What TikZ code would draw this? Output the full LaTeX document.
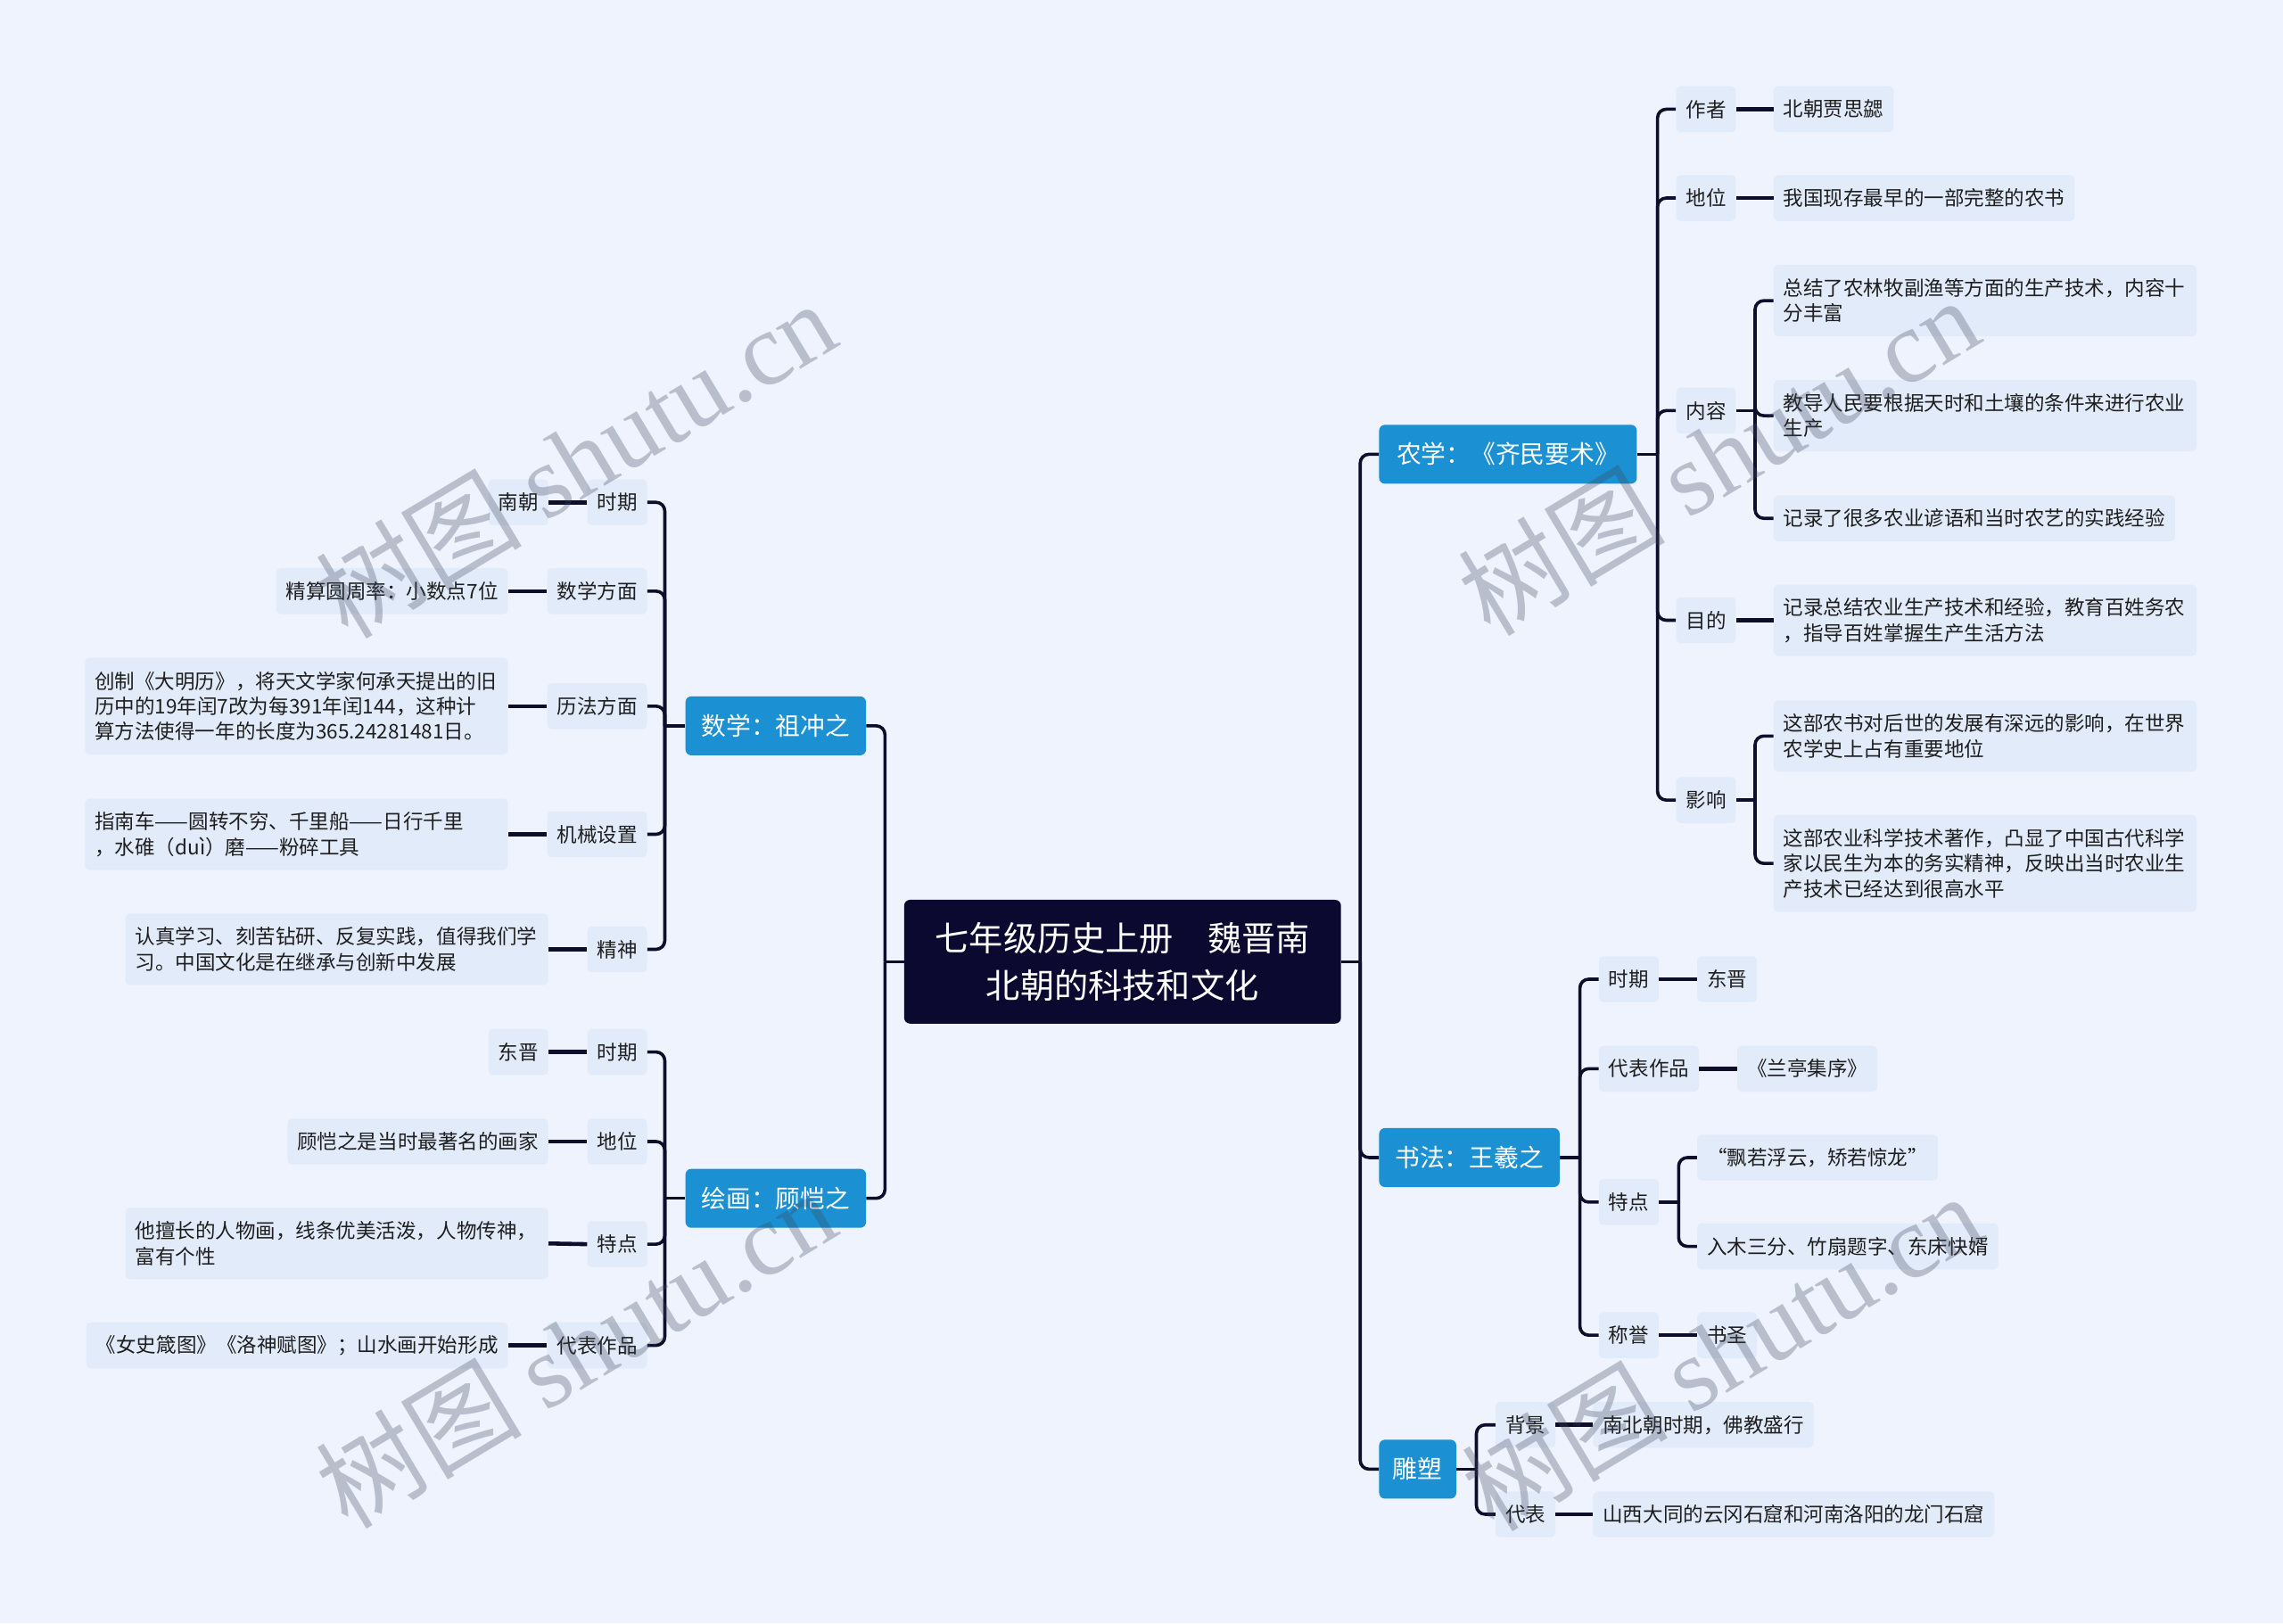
\documentclass[tikz,border=0pt]{standalone}
\usepackage{fontspec}
\setmainfont{Noto Sans CJK SC}
\newfontfamily\wmserif{Liberation Serif}
\newcommand\fsS{\fontsize{13.8pt}{17.4pt}\selectfont}
\newcommand\fsM{\fontsize{17pt}{21pt}\selectfont}
\newcommand\fsL{\fontsize{23.4pt}{32pt}\selectfont}
\newcommand\fsW{\fontsize{71pt}{80pt}\selectfont}
\definecolor{bgc}{HTML}{EEF3FD}
\definecolor{boxc}{HTML}{E2EBFA}
\definecolor{bluec}{HTML}{1B90D2}
\definecolor{rootc}{HTML}{0B0930}
\definecolor{linec}{HTML}{0E0D2B}
\definecolor{txtc}{HTML}{1E1E1E}
\definecolor{wmc}{RGB}{60,70,90}
\tikzset{
  lf/.style={fill=boxc, rounded corners=3, inner xsep=6.7, inner ysep=0, minimum height=31.5, font=\fsS, text=txtc, align=left},
  lftwo/.style={lf, minimum height=49, text width=277},
  lfthree/.style={lf, minimum height=66.5, text width=277},
  lone/.style={fill=bluec, rounded corners=4, text=white, font=\fsM, minimum height=40.5, inner xsep=0, inner ysep=0},
  rootbox/.style={fill=rootc, rounded corners=4, text=white, font=\fsL, minimum width=300, minimum height=85, align=center, inner sep=0},
  conn/.style={draw=linec, line width=2.2},
  elbow/.style={conn, rounded corners=6},
  leafconn/.style={draw=linec, line width=2.8},
  wm/.style={font=\fsW, text=wmc, text opacity=0.3, rotate=31, inner sep=0},
}
\begin{document}
\begin{tikzpicture}[x=1pt,y=-1pt]
\fill[bgc] (0,0) rectangle (1568,1115);
\useasboundingbox (0,0) rectangle (1568,1115);

% root
\node[rootbox] (root) at (771,660.5) {七年级历史上册　魏晋南\\北朝的科技和文化};

% level 1
\node[lone, anchor=west, minimum width=177] (nx) at (947,312) {农学：《齐民要术》};
\node[lone, anchor=west, minimum width=124] (sf) at (947,795) {书法：王羲之};
\node[lone, anchor=west, minimum width=53] (ds) at (947,1009) {雕塑};
\node[lone, anchor=east, minimum width=124] (sx) at (595,498.5) {数学：祖冲之};
\node[lone, anchor=east, minimum width=124] (hh) at (595,823) {绘画：顾恺之};

% 农学 children
\node[lf, anchor=west] (zz) at (1151,75) {作者};
\node[lf, anchor=west] (lzz) at (1218,75) {北朝贾思勰};
\node[lf, anchor=west] (dw) at (1151,136) {地位};
\node[lf, anchor=west] (ldw) at (1218,136) {我国现存最早的一部完整的农书};
\node[lf, anchor=west] (nr) at (1151,282) {内容};
\node[lftwo, anchor=west] (nra) at (1218,206.5) {总结了农林牧副渔等方面的生产技术，内容十\\分丰富};
\node[lftwo, anchor=west] (nrb) at (1218,285.5) {教导人民要根据天时和土壤的条件来进行农业\\生产};
\node[lf, anchor=west] (nrc) at (1218,356) {记录了很多农业谚语和当时农艺的实践经验};
\node[lf, anchor=west] (md) at (1151,426) {目的};
\node[lftwo, anchor=west] (lmd) at (1218,426) {记录总结农业生产技术和经验，教育百姓务农\\，指导百姓掌握生产生活方法};
\node[lf, anchor=west] (yx) at (1151,549.5) {影响};
\node[lftwo, anchor=west] (yxa) at (1218,505.5) {这部农书对后世的发展有深远的影响，在世界\\农学史上占有重要地位};
\node[lfthree, anchor=west] (yxb) at (1218,593) {这部农业科学技术著作，凸显了中国古代科学\\家以民生为本的务实精神，反映出当时农业生\\产技术已经达到很高水平};

% 书法 children
\node[lf, anchor=west] (sfa) at (1098,672.5) {时期};
\node[lf, anchor=west] (lsfa) at (1165.5,672.5) {东晋};
\node[lf, anchor=west] (sfb) at (1098,734) {代表作品};
\node[lf, anchor=west] (lsfb) at (1193,734) {《兰亭集序》};
\node[lf, anchor=west] (sfc) at (1098,825.6) {特点};
\node[lf, anchor=west, minimum width=164.5] (sfca) at (1165.5,795) {“飘若浮云，矫若惊龙”};
\node[lf, anchor=west] (sfcb) at (1165.5,856) {入木三分、竹扇题字、东床快婿};
\node[lf, anchor=west] (sfd) at (1098,917) {称誉};
\node[lf, anchor=west] (lsfd) at (1165.5,917) {书圣};

% 雕塑 children
\node[lf, anchor=west] (dsa) at (1027,978.6) {背景};
\node[lf, anchor=west] (ldsa) at (1094,978.6) {南北朝时期，佛教盛行};
\node[lf, anchor=west] (dsb) at (1027,1040) {代表};
\node[lf, anchor=west] (ldsb) at (1094,1040) {山西大同的云冈石窟和河南洛阳的龙门石窟};

% 数学 children
\node[lf, anchor=east] (sxa) at (444.6,345) {时期};
\node[lf, anchor=east] (lsxa) at (376.7,345) {南朝};
\node[lf, anchor=east] (sxb) at (444.6,406) {数学方面};
\node[lf, anchor=east] (lsxb) at (349,406) {精算圆周率：小数点7位};
\node[lf, anchor=east] (sxc) at (444.6,485) {历法方面};
\node[lfthree, anchor=east] (lsxc) at (349,485) {创制《大明历》，将天文学家何承天提出的旧\\历中的19年闰7改为每391年闰144，这种计\\算方法使得一年的长度为365.24281481日。};
\node[lf, anchor=east] (sxd) at (444.6,573) {机械设置};
\node[lftwo, anchor=east] (lsxd) at (349,573) {指南车——圆转不穷、千里船——日行千里\\，水碓（duì）磨——粉碎工具};
\node[lf, anchor=east] (sxe) at (444.6,652) {精神};
\node[lftwo, anchor=east] (lsxe) at (376.7,652) {认真学习、刻苦钻研、反复实践，值得我们学\\习。中国文化是在继承与创新中发展};

% 绘画 children
\node[lf, anchor=east] (hha) at (444.6,722.5) {时期};
\node[lf, anchor=east] (lhha) at (376.7,722.5) {东晋};
\node[lf, anchor=east] (hhb) at (444.6,784) {地位};
\node[lf, anchor=east] (lhhb) at (376.7,784) {顾恺之是当时最著名的画家};
\node[lf, anchor=east] (hhc) at (444.6,854.5) {特点};
\node[lftwo, anchor=east] (lhhc) at (376.7,854) {他擅长的人物画，线条优美活泼，人物传神，\\富有个性};
\node[lf, anchor=east] (hhd) at (444.6,924) {代表作品};
\node[lf, anchor=east] (lhhd) at (349,924) {《女史箴图》《洛神赋图》；山水画开始形成};

% ---- connectors ----
% root
\draw[conn] (root.east) -- ++(13,0) coordinate (jr);
\draw[conn] (root.west) -- ++(-13,0) coordinate (jl);
\foreach \c in {nx,sf,ds} \draw[elbow] (jr) |- (\c.west);
\foreach \c in {sx,hh} \draw[elbow] (jl) |- (\c.east);

% 农学
\draw[conn] (nx.east) -- ++(14,0) coordinate (jnx);
\foreach \c in {zz,dw,nr,md,yx} \draw[elbow] (jnx) |- (\c.west);
\draw[leafconn] (zz.east) -- (lzz.west);
\draw[leafconn] (dw.east) -- (ldw.west);
\draw[leafconn] (md.east) -- (lmd.west);
\draw[conn] (nr.east) -- ++(13,0) coordinate (jnr);
\foreach \c in {nra,nrb,nrc} \draw[elbow] (jnr) |- (\c.west);
\draw[conn] (yx.east) -- ++(13,0) coordinate (jyx);
\foreach \c in {yxa,yxb} \draw[elbow] (jyx) |- (\c.west);

% 书法
\draw[conn] (sf.east) -- ++(13.7,0) coordinate (jsf);
\foreach \c in {sfa,sfb,sfc,sfd} \draw[elbow] (jsf) |- (\c.west);
\draw[leafconn] (sfa.east) -- (lsfa.west);
\draw[leafconn] (sfb.east) -- (lsfb.west);
\draw[leafconn] (sfd.east) -- (lsfd.west);
\draw[conn] (sfc.east) -- ++(13.5,0) coordinate (jsfc);
\foreach \c in {sfca,sfcb} \draw[elbow] (jsfc) |- (\c.west);

% 雕塑
\draw[conn] (ds.east) -- ++(13.6,0) coordinate (jds);
\foreach \c in {dsa,dsb} \draw[elbow] (jds) |- (\c.west);
\draw[leafconn] (dsa.east) -- (ldsa.west);
\draw[leafconn] (dsb.east) -- (ldsb.west);

% 数学
\draw[conn] (sx.west) -- ++(-14,0) coordinate (jsx);
\foreach \c in {sxa,sxb,sxc,sxd,sxe} \draw[elbow] (jsx) |- (\c.east);
\draw[leafconn] (sxa.west) -- (lsxa.east);
\draw[leafconn] (sxb.west) -- (lsxb.east);
\draw[leafconn] (sxc.west) -- (lsxc.east);
\draw[leafconn] (sxd.west) -- (lsxd.east);
\draw[leafconn] (sxe.west) -- (lsxe.east);

% 绘画
\draw[conn] (hh.west) -- ++(-14,0) coordinate (jhh);
\foreach \c in {hha,hhb,hhc,hhd} \draw[elbow] (jhh) |- (\c.east);
\draw[leafconn] (hha.west) -- (lhha.east);
\draw[leafconn] (hhb.west) -- (lhhb.east);
\draw[leafconn] (hhc.west) -- (lhhc.east);
\draw[leafconn] (hhd.west) -- (lhhd.east);

% watermarks
\node[wm] (wma) at (395,315) {树图 {\wmserif shutu.cn}};
\node[wm] (wmb) at (1180,313) {树图 {\wmserif shutu.cn}};
\node[wm] (wmc) at (395,926) {树图 {\wmserif shutu.cn}};
\node[wm] (wmd) at (1182,928) {树图 {\wmserif shutu.cn}};
\end{tikzpicture}
\end{document}
